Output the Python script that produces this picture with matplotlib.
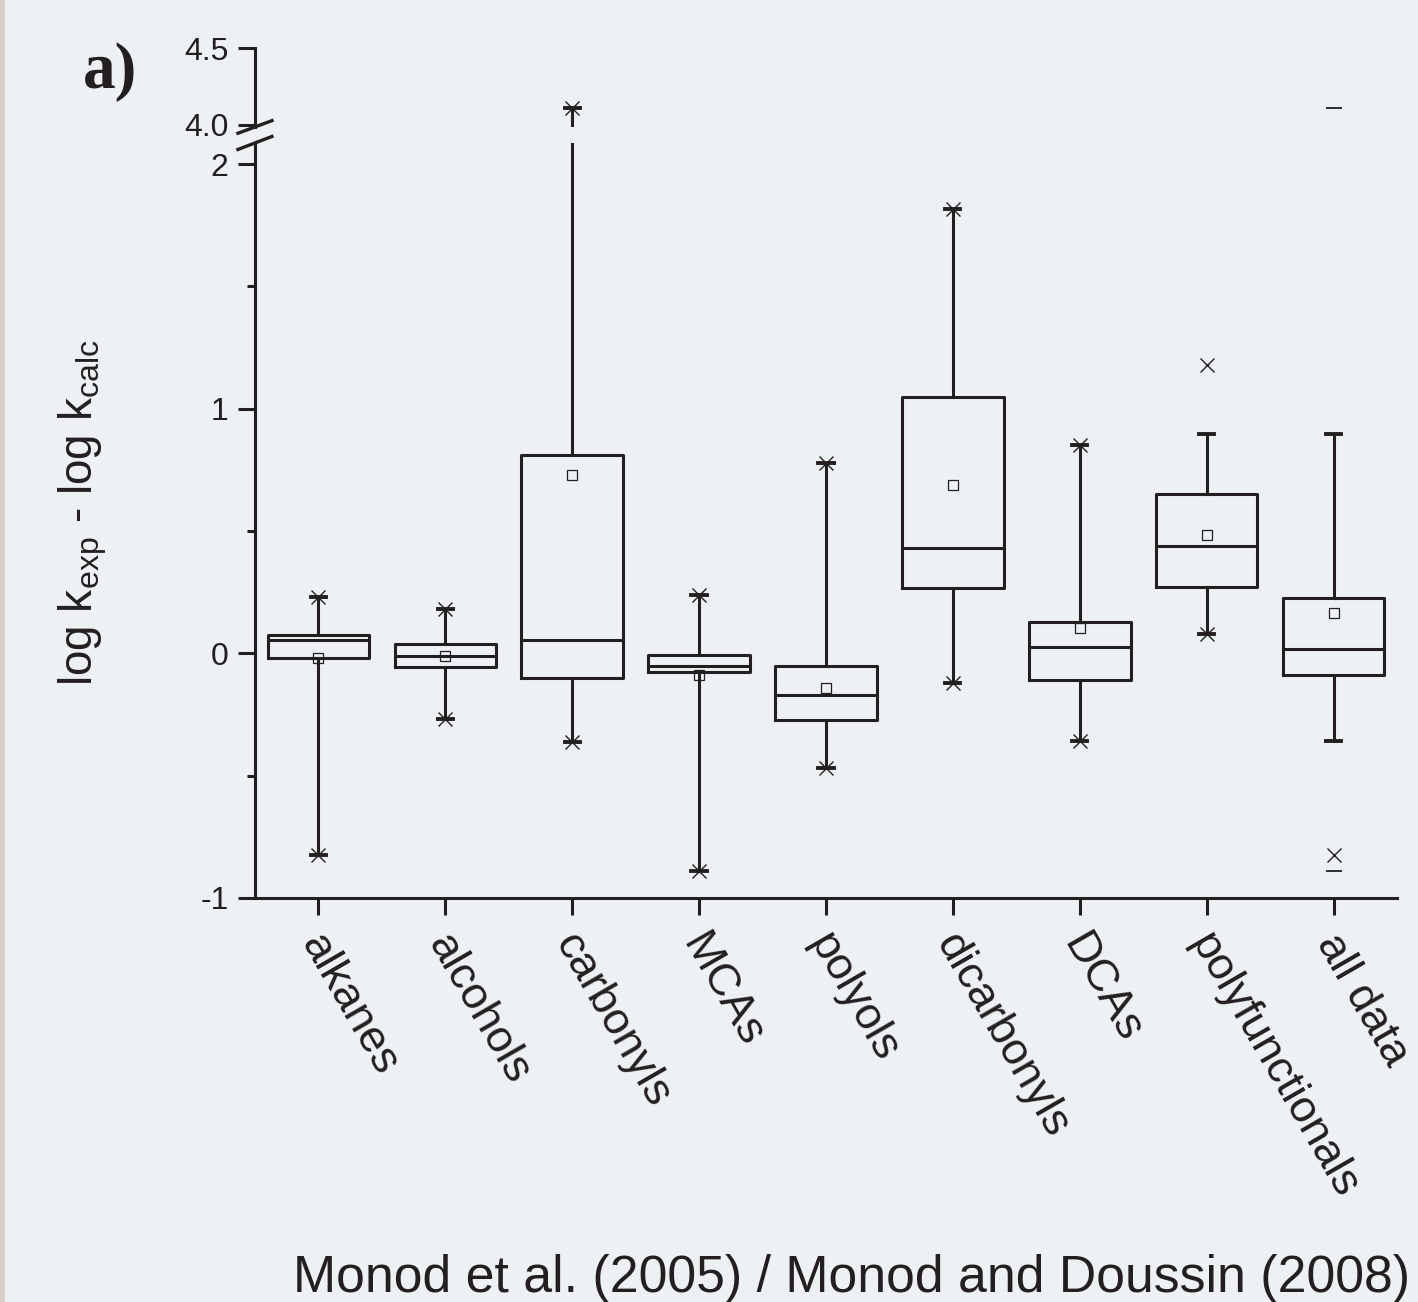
import matplotlib
matplotlib.use("Agg")
import matplotlib.pyplot as plt
from matplotlib.patches import Rectangle
from matplotlib.transforms import ScaledTranslation

# data
categories = ["alkanes", "alcohols", "carbonyls", "MCAs", "polyols",
              "dicarbonyls", "DCAs", "polyfunctionals", "all data"]
q1 = [-0.020, -0.057, -0.100, -0.078, -0.274, 0.266, -0.110, 0.270, -0.090]
med = [0.053, -0.012, 0.053, -0.053, -0.170, 0.430, 0.025, 0.440, 0.016]
q3 = [0.074, 0.040, 0.810, -0.008, -0.050, 1.047, 0.127, 0.650, 0.225]
whislo = [-0.826, -0.270, -0.364, -0.890, -0.470, -0.123, -0.360, 0.078, -0.360]
whishi = [0.229, 0.180, 4.110, 0.237, 0.777, 1.816, 0.851, 0.896, 0.896]
means = [-0.020, -0.010, 0.728, -0.090, -0.140, 0.687, 0.102, 0.483, 0.164]
# 1 % / 99 % markers (x) and min / max markers (-)
pct_x_pos = [1, 1, 2, 2, 3, 3, 4, 4, 5, 5, 6, 6, 7, 7, 8, 8, 9]
pct_x_val = [-0.826, 0.229, -0.270, 0.180, -0.364, 4.110, -0.890, 0.237,
             -0.470, 0.777, -0.123, 1.816, -0.360, 0.851, 0.078, 1.178, -0.826]
minmax_pos = [9, 9]
minmax_val = [-0.888, 4.110]

ink = "#231f20"
plt.rcParams["font.family"] = ["Liberation Sans", "DejaVu Sans"]
plt.rcParams["mathtext.fontset"] = "custom"
plt.rcParams["mathtext.rm"] = "Liberation Sans"

fig = plt.figure(figsize=(14.18, 13.02), dpi=100, facecolor="#edf1f4")
fig.add_artist(Rectangle((0, 0), 5 / 1418, 1, transform=fig.transFigure,
                         color="#d8cfc8", lw=0))

ax = fig.add_axes([0.1798, 0.3103, 0.8054, 0.5799])
axt = fig.add_axes([0.1798, 0.9025, 0.8054, 0.0606])

positions = list(range(1, len(categories) + 1))
stats = []
for i in range(len(categories)):
    stats.append(dict(med=med[i], q1=q1[i], q3=q3[i], whislo=whislo[i],
                      whishi=whishi[i], mean=means[i], fliers=[],
                      label=categories[i]))

for a in (ax, axt):
    a.set_facecolor("none")
    a.bxp(stats, positions=positions, widths=0.8, showmeans=True,
          capwidths=0.12,
          boxprops=dict(color=ink, lw=2.2),
          whiskerprops=dict(color=ink, lw=2.2),
          capprops=dict(color=ink, lw=2.8),
          medianprops=dict(color=ink, lw=2.2),
          meanprops=dict(marker="s", markerfacecolor="none",
                         markeredgecolor=ink, markersize=7,
                         markeredgewidth=0.9))
    a.plot(pct_x_pos, pct_x_val, "x", color=ink, ms=10, mew=1.0)
    a.plot(minmax_pos, minmax_val, "_", color=ink, ms=11, mew=1.3)
    a.set_xlim(0.5, 9.5)
    for s in ("top", "right"):
        a.spines[s].set_visible(False)
    a.spines["left"].set_linewidth(2.2)
    a.spines["left"].set_color(ink)

ax.set_ylim(-1, 2.086)
ax.set_yticks([-1, 0, 1, 2])
ax.set_yticklabels(["-1", "0", "1", "2"])
ax.set_yticks([-0.5, 0.5, 1.5], minor=True)
ax.spines["bottom"].set_linewidth(2.2)
ax.spines["bottom"].set_color(ink)
ax.set_xticks(positions)
ax.set_xticklabels([])
ax.tick_params(axis="x", length=12, width=2.2, color=ink)
# category labels, slanted, hung just below the ticks
lab_trans = ax.get_xaxis_transform() + ScaledTranslation(-8 / 100, -28 / 72,
                                                         fig.dpi_scale_trans)
for p, name in zip(positions, categories):
    ax.text(p, 0, name, transform=lab_trans, rotation=-60, ha="left",
            va="center", rotation_mode="anchor", fontsize=32.4, color=ink)
ax.tick_params(axis="y", which="major", length=12, width=2.2, color=ink,
               labelsize=23, pad=7, labelcolor=ink)
ax.tick_params(axis="y", which="minor", length=6, width=2.2, color=ink)
ax.set_ylabel(r"log k$_{\mathrm{exp}}$ - log k$_{\mathrm{calc}}$",
              fontsize=33, color=ink)
ax.yaxis.set_label_coords(-0.128, 0.511)

axt.set_ylim(3.985, 4.5)
axt.set_yticks([4.0, 4.5])
axt.set_yticklabels(["4.0", "4.5"])
axt.spines["bottom"].set_visible(False)
axt.set_xticks([])
axt.tick_params(axis="y", length=12, width=2.2, color=ink, labelsize=23,
                pad=7, labelcolor=ink)

# axis break marks
dx = 0.0149
kw = dict(color=ink, lw=2.4, clip_on=False)
axt.plot([-dx, dx], [-0.08, 0.08], transform=axt.transAxes, **kw)
ax.plot([-dx, dx], [1 - 0.0086, 1 + 0.0086], transform=ax.transAxes, **kw)

fig.text(83 / 1418, 1 - 88 / 1302, "a)", fontsize=47, fontweight="bold",
         family=["Liberation Serif", "DejaVu Serif"], color=ink,
         va="baseline")
fig.text(1410 / 1418, 10 / 1302, "Monod et al. (2005) / Monod and Doussin (2008)",
         fontsize=37.3, color=ink, ha="right", va="baseline")

fig.savefig("out.png", dpi=100, facecolor=fig.get_facecolor())
